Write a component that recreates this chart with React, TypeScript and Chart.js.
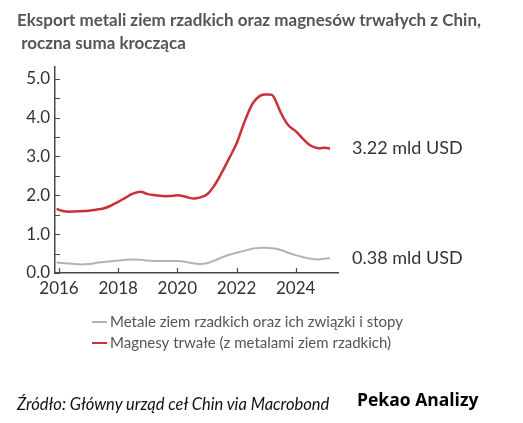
import React, { useEffect, useRef } from "react";
import { Chart, registerables } from "chart.js";

Chart.register(...registerables);

// ---- data (decimal years) ----
const dates = [
  2015.92, 2016.1, 2016.25, 2016.5, 2016.75, 2017.0, 2017.25, 2017.5, 2017.75,
  2018.0, 2018.25, 2018.5, 2018.75, 2019.0, 2019.25, 2019.5, 2019.75, 2020.0,
  2020.25, 2020.5, 2020.75, 2021.0, 2021.25, 2021.5, 2021.75, 2022.0, 2022.25,
  2022.5, 2022.67, 2022.85, 2023.0, 2023.2, 2023.3, 2023.5, 2023.75, 2024.0,
  2024.25, 2024.5, 2024.75, 2025.0, 2025.16,
];
const magnets = [
  1.65, 1.6, 1.58, 1.58, 1.59, 1.6, 1.63, 1.66, 1.73,
  1.83, 1.94, 2.04, 2.09, 2.03, 2.0, 1.98, 1.98, 2.0,
  1.97, 1.92, 1.94, 2.02, 2.25, 2.58, 2.95, 3.33, 3.85,
  4.3, 4.48, 4.58, 4.59, 4.58, 4.47, 4.12, 3.8, 3.65,
  3.45, 3.28, 3.21, 3.22, 3.2,
];
const metals = [
  0.27, 0.26, 0.25, 0.23, 0.22, 0.23, 0.26, 0.28, 0.3,
  0.32, 0.34, 0.35, 0.34, 0.32, 0.31, 0.31, 0.31, 0.31,
  0.29, 0.25, 0.23, 0.25, 0.32, 0.4, 0.47, 0.52, 0.57,
  0.62, 0.64, 0.65, 0.65, 0.64, 0.63, 0.59, 0.52, 0.46,
  0.41, 0.37, 0.35, 0.37, 0.38,
];
const seriesNames = [
  "Metale ziem rzadkich oraz ich związki i stopy",
  "Magnesy trwałe (z metalami ziem rzadkich)",
];
const endLabels = ["0.38 mld USD", "3.22 mld USD"];
const xTickValues = [2016, 2018, 2020, 2022, 2024];
const yTickValues = [0, 1, 2, 3, 4, 5];
const yMinorTickValues = [0, 0.5, 1, 1.5, 2, 2.5, 3, 3.5, 4, 4.5, 5];

const title1 = "Eksport metali ziem rzadkich oraz magnesów trwałych z Chin,";
const title2 = "roczna suma krocząca";
const sourceText = "Źródło: Główny urząd ceł Chin via Macrobond";
const brandText = "Pekao Analizy";

const AXIS_COLOR = "#4a4a4a";
const TEXT_COLOR = "#333333";

const innerTicksPlugin = {
  id: "innerTicks",
  afterDraw(chart: any) {
    const { ctx, chartArea, scales } = chart;
    ctx.save();
    ctx.strokeStyle = AXIS_COLOR;
    ctx.lineWidth = 1.2;
    ctx.beginPath();
    yMinorTickValues.forEach((v) => {
      const y = Math.round(scales.y.getPixelForValue(v)) + 0.5;
      ctx.moveTo(chartArea.left, y);
      ctx.lineTo(chartArea.left + 5, y);
    });
    xTickValues.forEach((v) => {
      const x = Math.round(scales.x.getPixelForValue(v)) + 0.5;
      ctx.moveTo(x, chartArea.bottom);
      ctx.lineTo(x, chartArea.bottom - 5);
    });
    ctx.stroke();
    ctx.restore();
  },
};

const endLabelPlugin = {
  id: "endLabels",
  afterDatasetsDraw(chart: any) {
    const { ctx, chartArea, scales } = chart;
    ctx.save();
    ctx.font = "18px Lato";
    ctx.fillStyle = TEXT_COLOR;
    ctx.textBaseline = "middle";
    ctx.textAlign = "left";
    chart.data.datasets.forEach((ds: any, i: number) => {
      const last = ds.data[ds.data.length - 1];
      const y = scales.y.getPixelForValue(last.y);
      ctx.fillText(endLabels[i], chartArea.right + 14, y);
    });
    ctx.restore();
  },
};

const legendPlugin = {
  id: "customLegend",
  afterDraw(chart: any) {
    const { ctx } = chart;
    ctx.save();
    ctx.font = "15px Lato";
    ctx.textBaseline = "middle";
    ctx.textAlign = "left";
    chart.data.datasets.forEach((ds: any, i: number) => {
      const y = 322 + i * 21;
      ctx.strokeStyle = ds.borderColor;
      ctx.lineWidth = 2;
      ctx.beginPath();
      ctx.moveTo(92, y);
      ctx.lineTo(107, y);
      ctx.stroke();
      ctx.fillStyle = "#555555";
      ctx.fillText(ds.label, 110, y);
    });
    ctx.restore();
  },
};

export default function App() {
  const canvasRef = useRef<HTMLCanvasElement | null>(null);

  useEffect(() => {
    if (!canvasRef.current) return;
    const chart = new Chart(canvasRef.current, {
      type: "line",
      data: {
        datasets: [
          {
            label: seriesNames[0],
            data: dates.map((d, i) => ({ x: d, y: metals[i] })),
            borderColor: "#b3b3b3",
            borderWidth: 2,
            pointRadius: 0,
            tension: 0.35,
          },
          {
            label: seriesNames[1],
            data: dates.map((d, i) => ({ x: d, y: magnets[i] })),
            borderColor: "#c9303a",
            borderWidth: 2.5,
            pointRadius: 0,
            tension: 0.35,
          },
        ],
      },
      options: {
        animation: false,
        responsive: false,
        devicePixelRatio: 1,
        layout: { padding: { top: 67, right: 185, bottom: 0, left: 0 } },
        plugins: {
          legend: { display: false },
          tooltip: { enabled: false },
          title: { display: false },
        },
        scales: {
          x: {
            type: "linear",
            min: 2015.865,
            max: 2025.43,
            afterBuildTicks: (scale: any) => {
              scale.ticks = xTickValues.map((v) => ({ value: v }));
            },
            afterFit: (scale: any) => {
              scale.height = 150;
            },
            grid: { display: true, drawOnChartArea: false, drawTicks: false },
            border: { display: true, color: AXIS_COLOR, width: 1.5 },
            ticks: {
              padding: 5,
              color: TEXT_COLOR,
              font: { family: "Lato", size: 17 },
              maxRotation: 0,
              autoSkip: false,
              callback: (v: any) => String(v),
            },
          },
          y: {
            type: "linear",
            min: 0,
            max: 5.3,
            afterBuildTicks: (scale: any) => {
              scale.ticks = yTickValues.map((v) => ({ value: v }));
            },
            afterFit: (scale: any) => {
              scale.width = 55;
            },
            grid: { display: true, drawOnChartArea: false, drawTicks: false },
            border: { display: true, color: AXIS_COLOR, width: 1.5 },
            ticks: {
              padding: 5,
              color: TEXT_COLOR,
              font: { family: "Lato", size: 17 },
              autoSkip: false,
              callback: (v: any) => Number(v).toFixed(1),
            },
          },
        },
      },
      plugins: [innerTicksPlugin, endLabelPlugin, legendPlugin],
    });
    return () => chart.destroy();
  }, []);

  return (
    <div
      style={{
        position: "fixed",
        left: 0,
        top: 0,
        width: 523,
        height: 423,
        background: "#ffffff",
        overflow: "hidden",
      }}
    >
      <canvas
        ref={canvasRef}
        width={523}
        height={423}
        style={{ position: "absolute", left: 0, top: 0, width: 523, height: 423 }}
      />
      <div
        style={{
          position: "absolute",
          left: 17,
          top: 8,
          fontFamily: "Lato",
          fontWeight: 700,
          fontSize: 17,
          lineHeight: "23px",
          color: "#555555",
          whiteSpace: "pre",
        }}
      >
        {title1}
        {"\n "}
        {title2}
      </div>
      <div
        style={{
          position: "absolute",
          left: 17,
          top: 394,
          fontFamily: "Lato",
          fontStyle: "italic",
          fontSize: 16.5,
          lineHeight: "20px",
          color: "#111111",
          whiteSpace: "pre",
        }}
      >
        {sourceText}
      </div>
      <div
        style={{
          position: "absolute",
          left: 357,
          top: 387,
          fontFamily: "Open Sans",
          fontWeight: 700,
          fontSize: 17.5,
          lineHeight: "24px",
          color: "#000000",
          whiteSpace: "pre",
        }}
      >
        {brandText}
      </div>
    </div>
  );
}
